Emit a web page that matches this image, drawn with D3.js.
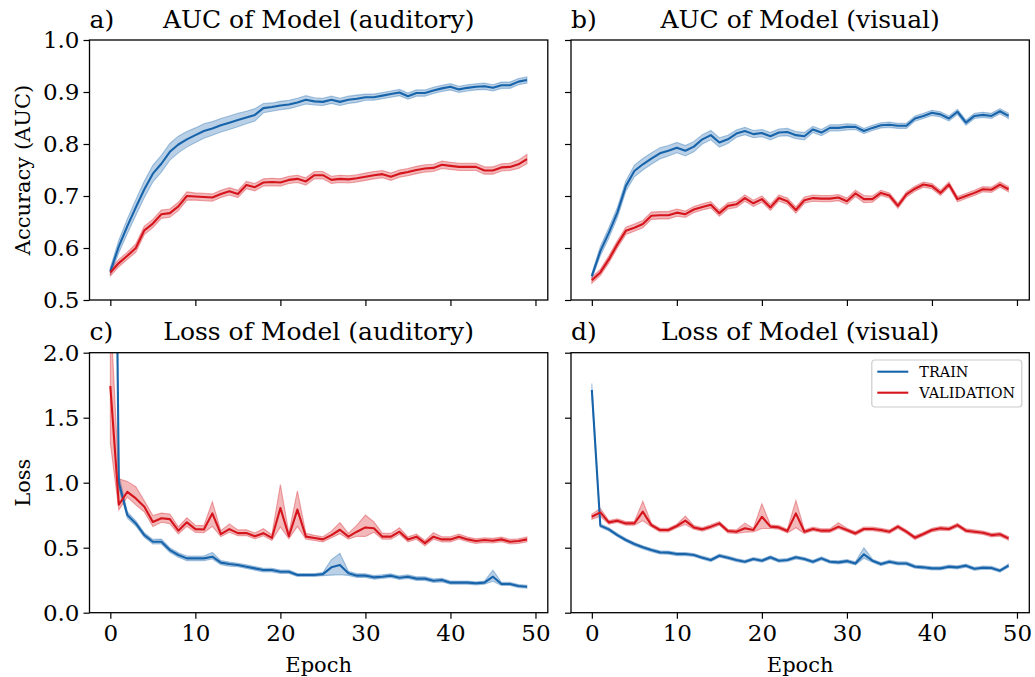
<!DOCTYPE html>
<html><head><meta charset="utf-8">
<script src="https://cdn.jsdelivr.net/npm/d3@7"></script>
<style>
body{margin:0;background:#fff}
svg{display:block}
text{font-family:"DejaVu Serif",serif;fill:#000}
</style>
</head><body>
<svg id="c" width="1035" height="677"></svg>
<script>
// ---------------- DATA ----------------
const epochs = [0,1,2,3,4,5,6,7,8,9,10,11,12,13,14,15,16,17,18,19,20,21,22,23,24,25,26,27,28,29,30,31,32,33,34,35,36,37,38,39,40,41,42,43,44,45,46,47,48,49];
const xTicks = [0,10,20,30,40,50];
const aucTicks = [0.5,0.6,0.7,0.8,0.9,1.0];
const lossTicks = [0.0,0.5,1.0,1.5,2.0];
const seriesNames = ["TRAIN","VALIDATION"];
const panelLetters = ["a)","b)","c)","d)"];
const panelTitles = ["AUC of Model (auditory)","AUC of Model (visual)","Loss of Model (auditory)","Loss of Model (visual)"];

// a) AUC auditory
const aucAudTrain = [0.555,0.603,0.642,0.678,0.713,0.743,0.762,0.785,0.799,0.809,0.817,0.825,0.830,0.836,0.841,0.846,0.851,0.856,0.869,0.871,0.874,0.876,0.880,0.885,0.882,0.881,0.885,0.881,0.885,0.887,0.890,0.890,0.893,0.896,0.899,0.892,0.898,0.898,0.903,0.907,0.910,0.905,0.908,0.910,0.911,0.908,0.913,0.913,0.920,0.923];
const aucAudTrainSd = [0.007,0.012,0.014,0.015,0.016,0.016,0.016,0.016,0.016,0.015,0.014,0.014,0.013,0.013,0.013,0.013,0.012,0.012,0.009,0.008,0.008,0.008,0.008,0.008,0.007,0.007,0.007,0.007,0.007,0.007,0.006,0.006,0.006,0.006,0.006,0.006,0.006,0.006,0.006,0.006,0.006,0.006,0.006,0.006,0.006,0.006,0.006,0.006,0.006,0.006];
const aucAudVal = [0.553,0.571,0.585,0.600,0.634,0.647,0.665,0.667,0.680,0.700,0.699,0.698,0.697,0.704,0.709,0.704,0.721,0.717,0.726,0.727,0.726,0.731,0.733,0.728,0.740,0.740,0.731,0.733,0.732,0.734,0.737,0.740,0.742,0.737,0.743,0.746,0.750,0.753,0.754,0.760,0.758,0.756,0.756,0.756,0.749,0.749,0.755,0.756,0.761,0.771];
const aucAudValSd = [0.007,0.007,0.007,0.008,0.008,0.008,0.008,0.008,0.008,0.008,0.007,0.007,0.007,0.007,0.007,0.007,0.007,0.007,0.007,0.007,0.007,0.007,0.007,0.007,0.007,0.007,0.007,0.007,0.007,0.007,0.007,0.007,0.007,0.007,0.007,0.007,0.007,0.007,0.007,0.007,0.007,0.007,0.007,0.007,0.007,0.007,0.007,0.007,0.008,0.009];

// b) AUC visual
const aucVisTrain = [0.546,0.594,0.629,0.668,0.719,0.748,0.761,0.772,0.782,0.787,0.793,0.787,0.795,0.809,0.817,0.803,0.809,0.820,0.825,0.819,0.821,0.815,0.822,0.823,0.817,0.815,0.828,0.822,0.831,0.831,0.833,0.833,0.825,0.831,0.836,0.837,0.835,0.835,0.849,0.854,0.860,0.857,0.849,0.862,0.841,0.854,0.856,0.854,0.863,0.854];
const aucVisTrainSd = [0.005,0.009,0.010,0.010,0.010,0.011,0.011,0.011,0.011,0.010,0.010,0.010,0.010,0.009,0.009,0.009,0.008,0.007,0.007,0.007,0.007,0.007,0.007,0.007,0.007,0.007,0.006,0.006,0.006,0.006,0.006,0.005,0.005,0.005,0.005,0.005,0.005,0.005,0.005,0.005,0.005,0.005,0.005,0.005,0.005,0.005,0.005,0.005,0.005,0.005];
const aucVisVal = [0.538,0.553,0.578,0.607,0.633,0.639,0.646,0.662,0.663,0.663,0.668,0.665,0.674,0.679,0.683,0.667,0.681,0.684,0.696,0.686,0.694,0.678,0.696,0.690,0.673,0.692,0.696,0.695,0.695,0.697,0.690,0.705,0.694,0.694,0.706,0.701,0.681,0.703,0.714,0.722,0.719,0.706,0.722,0.694,0.700,0.706,0.713,0.712,0.722,0.713];
const aucVisValSd = [0.006,0.006,0.007,0.007,0.007,0.007,0.007,0.007,0.007,0.007,0.007,0.006,0.006,0.006,0.006,0.006,0.006,0.006,0.006,0.006,0.006,0.006,0.006,0.006,0.006,0.006,0.006,0.006,0.006,0.006,0.006,0.006,0.007,0.006,0.005,0.005,0.005,0.005,0.005,0.005,0.005,0.005,0.005,0.005,0.005,0.005,0.005,0.005,0.005,0.005];

// c) Loss auditory
const lossAudTrain = [7.2,1.00,0.751,0.687,0.597,0.546,0.546,0.482,0.444,0.418,0.418,0.418,0.431,0.385,0.374,0.367,0.354,0.341,0.328,0.328,0.315,0.315,0.290,0.290,0.290,0.297,0.349,0.367,0.303,0.285,0.285,0.272,0.277,0.285,0.269,0.277,0.262,0.262,0.246,0.251,0.231,0.231,0.231,0.226,0.231,0.277,0.221,0.221,0.205,0.200];
const lossAudTrainUp = [0.3,0.06,0.025,0.02,0.018,0.018,0.02,0.018,0.018,0.018,0.018,0.018,0.032,0.016,0.016,0.014,0.014,0.014,0.014,0.014,0.014,0.014,0.012,0.012,0.012,0.012,0.06,0.09,0.016,0.014,0.014,0.014,0.014,0.014,0.014,0.014,0.014,0.014,0.014,0.014,0.012,0.012,0.012,0.012,0.012,0.05,0.012,0.012,0.012,0.012];
const lossAudTrainDn = [0.3,0.04,0.025,0.02,0.018,0.018,0.018,0.018,0.018,0.018,0.018,0.018,0.018,0.016,0.016,0.014,0.014,0.014,0.014,0.014,0.014,0.014,0.012,0.012,0.012,0.012,0.06,0.075,0.016,0.014,0.014,0.014,0.014,0.014,0.014,0.014,0.014,0.014,0.014,0.014,0.012,0.012,0.012,0.012,0.012,0.035,0.012,0.012,0.012,0.012];
const lossAudVal = [1.744,0.830,0.930,0.879,0.815,0.698,0.726,0.720,0.631,0.695,0.643,0.640,0.764,0.605,0.643,0.612,0.613,0.588,0.612,0.575,0.805,0.588,0.793,0.585,0.575,0.564,0.597,0.638,0.585,0.623,0.656,0.649,0.585,0.585,0.623,0.564,0.585,0.535,0.585,0.564,0.564,0.585,0.564,0.551,0.559,0.554,0.564,0.546,0.551,0.564];
const lossAudValUp = [0.60,0.20,0.08,0.09,0.045,0.05,0.04,0.04,0.03,0.035,0.03,0.03,0.09,0.025,0.04,0.025,0.025,0.025,0.035,0.025,0.18,0.025,0.145,0.025,0.02,0.02,0.03,0.055,0.025,0.05,0.095,0.05,0.025,0.025,0.03,0.02,0.02,0.02,0.03,0.02,0.02,0.02,0.018,0.018,0.018,0.018,0.018,0.018,0.018,0.018];
const lossAudValDn = [0.44,0.04,0.04,0.05,0.04,0.035,0.03,0.035,0.025,0.03,0.025,0.025,0.10,0.02,0.025,0.02,0.02,0.02,0.02,0.02,0.145,0.02,0.13,0.02,0.02,0.02,0.02,0.03,0.02,0.035,0.07,0.03,0.02,0.02,0.02,0.02,0.02,0.02,0.02,0.02,0.02,0.018,0.018,0.018,0.018,0.018,0.018,0.018,0.018,0.018];

// d) Loss visual
const lossVisTrain = [1.713,0.670,0.641,0.597,0.559,0.528,0.503,0.482,0.464,0.462,0.451,0.451,0.444,0.423,0.405,0.438,0.423,0.405,0.392,0.413,0.400,0.426,0.400,0.405,0.426,0.413,0.392,0.418,0.392,0.387,0.397,0.379,0.449,0.400,0.374,0.392,0.379,0.379,0.354,0.349,0.341,0.341,0.354,0.349,0.362,0.338,0.346,0.344,0.323,0.362];
const lossVisTrainUp = [0.05,0.012,0.012,0.012,0.012,0.012,0.012,0.012,0.012,0.012,0.012,0.012,0.012,0.012,0.012,0.012,0.012,0.012,0.012,0.012,0.012,0.012,0.012,0.012,0.012,0.012,0.012,0.012,0.012,0.012,0.012,0.012,0.05,0.012,0.012,0.012,0.012,0.012,0.012,0.012,0.012,0.012,0.012,0.012,0.012,0.012,0.012,0.012,0.012,0.012];
const lossVisTrainDn = [0.03,0.012,0.012,0.012,0.012,0.012,0.012,0.012,0.012,0.012,0.012,0.012,0.012,0.012,0.012,0.012,0.012,0.012,0.012,0.012,0.012,0.012,0.012,0.012,0.012,0.012,0.012,0.012,0.012,0.012,0.012,0.012,0.03,0.012,0.012,0.012,0.012,0.012,0.012,0.012,0.012,0.012,0.012,0.012,0.012,0.012,0.012,0.012,0.012,0.012];
const lossVisVal = [0.738,0.772,0.695,0.708,0.687,0.687,0.777,0.674,0.636,0.636,0.667,0.708,0.656,0.641,0.662,0.687,0.628,0.623,0.649,0.636,0.738,0.662,0.656,0.628,0.764,0.623,0.644,0.631,0.631,0.662,0.636,0.610,0.644,0.644,0.636,0.623,0.662,0.623,0.577,0.605,0.636,0.649,0.644,0.674,0.631,0.623,0.615,0.597,0.603,0.572];
const lossVisValUp = [0.02,0.03,0.014,0.014,0.014,0.014,0.08,0.014,0.014,0.014,0.014,0.035,0.014,0.014,0.014,0.014,0.014,0.014,0.04,0.014,0.10,0.014,0.014,0.014,0.10,0.014,0.014,0.014,0.014,0.03,0.014,0.014,0.014,0.014,0.014,0.014,0.014,0.014,0.014,0.014,0.014,0.014,0.014,0.014,0.014,0.014,0.014,0.014,0.014,0.014];
const lossVisValDn = [0.02,0.03,0.014,0.014,0.014,0.014,0.07,0.014,0.014,0.014,0.014,0.03,0.014,0.014,0.014,0.014,0.014,0.014,0.03,0.014,0.09,0.014,0.014,0.014,0.11,0.014,0.014,0.014,0.014,0.014,0.014,0.014,0.014,0.014,0.014,0.014,0.014,0.014,0.014,0.014,0.014,0.014,0.014,0.014,0.014,0.014,0.014,0.014,0.014,0.014];

// ---------------- LAYOUT ----------------
const colors = ["#1764ab", "#d5141c"];
const colLeft = [89.5, 571];
const rowTop = [40, 352.7];
const W = 458.3, H = 260;
const xDomain = [-2.45, 51.45];

const panels = [
  {col:0,row:0, yDomain:[0.5,1.0], ticks:aucTicks, showY:true, showX:false, ylabel:"Accuracy (AUC)",
   series:[{m:aucAudTrain,up:aucAudTrainSd,dn:aucAudTrainSd},{m:aucAudVal,up:aucAudValSd,dn:aucAudValSd}]},
  {col:1,row:0, yDomain:[0.5,1.0], ticks:aucTicks, showY:false, showX:false,
   series:[{m:aucVisTrain,up:aucVisTrainSd,dn:aucVisTrainSd},{m:aucVisVal,up:aucVisValSd,dn:aucVisValSd}]},
  {col:0,row:1, yDomain:[0,2.0], ticks:lossTicks, showY:true, showX:true, ylabel:"Loss", xlabel:"Epoch",
   series:[{m:lossAudTrain,up:lossAudTrainUp,dn:lossAudTrainDn},{m:lossAudVal,up:lossAudValUp,dn:lossAudValDn}]},
  {col:1,row:1, yDomain:[0,2.0], ticks:lossTicks, showY:false, showX:true, xlabel:"Epoch", legend:true,
   series:[{m:lossVisTrain,up:lossVisTrainUp,dn:lossVisTrainDn},{m:lossVisVal,up:lossVisValUp,dn:lossVisValDn}]}
];

const svg = d3.select("#c");
const TICK_FS = 23, TITLE_FS = 25, LABEL_FS = 21;

panels.forEach((p, pi) => {
  const g = svg.append("g").attr("transform", `translate(${colLeft[p.col]},${rowTop[p.row]})`);
  const x = d3.scaleLinear().domain(xDomain).range([0, W]);
  const y = d3.scaleLinear().domain(p.yDomain).range([H, 0]);
  const clipId = "clip" + pi;
  g.append("clipPath").attr("id", clipId).append("rect").attr("width", W).attr("height", H);
  const plot = g.append("g").attr("clip-path", `url(#${clipId})`);

  p.series.forEach((s, si) => {
    const area = d3.area()
      .x(i => x(epochs[i]))
      .y0(i => y(s.m[i] - s.dn[i]))
      .y1(i => y(s.m[i] + s.up[i]));
    plot.append("path").datum(epochs.map((e, i) => i))
      .attr("d", area)
      .attr("fill", colors[si]).attr("fill-opacity", 0.3)
      .attr("stroke", colors[si]).attr("stroke-opacity", 0.35).attr("stroke-width", 1.1);
  });
  p.series.forEach((s, si) => {
    const line = d3.line().x(i => x(epochs[i])).y(i => y(s.m[i]));
    plot.append("path").datum(epochs.map((e, i) => i))
      .attr("d", line).attr("fill", "none")
      .attr("stroke", colors[si]).attr("stroke-width", 2.1)
      .attr("stroke-linejoin", "round");
  });

  // axes
  const fmt = d3.format(".1f");
  const ya = g.append("g").call(d3.axisLeft(y).tickValues(p.ticks).tickSize(6).tickPadding(4)
      .tickFormat(p.showY ? fmt : () => ""));
  const xa = g.append("g").attr("transform", `translate(0,${H})`)
      .call(d3.axisBottom(x).tickValues(xTicks).tickSize(6).tickPadding(6)
      .tickFormat(p.showX ? d3.format("d") : () => ""));
  [ya, xa].forEach(a => {
    a.select(".domain").remove();
    a.selectAll(".tick line").attr("stroke", "#000").attr("stroke-width", 1.2);
    a.selectAll(".tick text").attr("font-family", "DejaVu Serif").attr("font-size", TICK_FS).attr("fill", "#000");
  });

  // frame
  g.append("rect").attr("width", W).attr("height", H)
    .attr("fill", "none").attr("stroke", "#000").attr("stroke-width", 1.3);

  // titles
  g.append("text").attr("x", 0).attr("y", -12.5).attr("font-size", TITLE_FS).text(panelLetters[pi]);
  g.append("text").attr("x", W / 2).attr("y", -12.5).attr("text-anchor", "middle")
    .attr("font-size", TITLE_FS).text(panelTitles[pi]);

  if (p.ylabel) {
    g.append("text").attr("transform", `translate(${-60},${H / 2}) rotate(-90)`)
      .attr("text-anchor", "middle").attr("font-size", LABEL_FS).text(p.ylabel);
  }
  if (p.xlabel) {
    g.append("text").attr("x", W / 2).attr("y", H + 59.5).attr("text-anchor", "middle")
      .attr("font-size", LABEL_FS).text(p.xlabel);
  }

  if (p.legend) {
    const lg = g.append("g").attr("transform", `translate(${W - 157.5},${7.3})`);
    lg.append("rect").attr("width", 150).attr("height", 47).attr("rx", 3)
      .attr("fill", "#fff").attr("fill-opacity", 0.8).attr("stroke", "#ccc").attr("stroke-width", 1.2);
    seriesNames.forEach((n, i) => {
      const yy = 11.7 + i * 21;
      lg.append("line").attr("x1", 5.5).attr("x2", 36.5).attr("y1", yy).attr("y2", yy)
        .attr("stroke", colors[i]).attr("stroke-width", 2.1);
      lg.append("text").attr("x", 47.5).attr("y", yy).attr("dy", "0.36em")
        .attr("font-size", 14.4).text(n);
    });
  }
});
</script>
</body></html>
